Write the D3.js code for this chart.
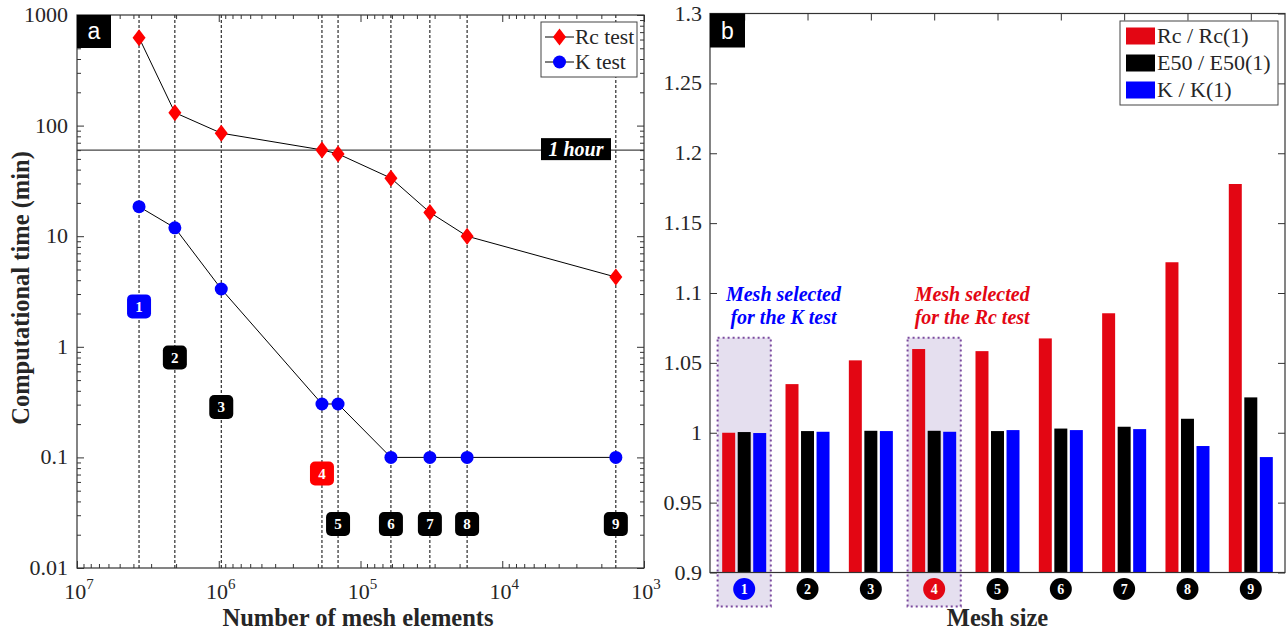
<!DOCTYPE html>
<html><head><meta charset="utf-8">
<script src="https://cdn.jsdelivr.net/npm/d3@7"></script>
<style>
body{margin:0;background:#fff}
svg{display:block}
text{font-family:"Liberation Serif","Times New Roman",serif;fill:#262626}
</style>
</head><body><svg id="c" width="1287" height="633"></svg>
<script>
// ---------- Panel a data ----------
const meshIds = [1, 2, 3, 4, 5, 6, 7, 8, 9];
const meshElements = [3.65e6, 2.04e6, 9.6e5, 1.87e5, 1.44e5, 6.1e4, 3.24e4, 1.77e4, 1.58e3];
const rcTime = [624, 131, 85.4, 60.3, 55.5, 33.5, 16.4, 10, 4.27];
const kTime = [18.5, 11.9, 3.33, 0.304, 0.304, 0.1, 0.1, 0.1, 0.1];
const badgeTime = [2.32, 0.80, 0.286, 0.0714, 0.025, 0.025, 0.025, 0.025, 0.025];
const oneHour = 60;
const yTicksA = [0.01, 0.1, 1, 10, 100, 1000];
const yTickLabelsA = ["0.01", "0.1", "1", "10", "100", "1000"];
const xTicksA = [1e7, 1e6, 1e5, 1e4, 1e3];
const xTickExpA = ["7", "6", "5", "4", "3"];
const legendA = ["Rc test", "K test"];

// ---------- Panel b data ----------
const seriesNames = ["Rc / Rc(1)", "E50 / E50(1)", "K / K(1)"];
const rcRatio = [1.0, 1.0348, 1.0518, 1.0599, 1.0584, 1.0675, 1.0855, 1.122, 1.178];
const e50Ratio = [1.0005, 1.0012, 1.0014, 1.0014, 1.0012, 1.003, 1.0043, 1.010, 1.0253];
const kRatio = [0.9998, 1.0007, 1.0012, 1.0007, 1.0019, 1.0019, 1.0026, 0.9905, 0.9826];
const yTicksB = [0.9, 0.95, 1, 1.05, 1.1, 1.15, 1.2, 1.25, 1.3];
const selectedK = 1, selectedRc = 4;

const RED = "#e30613", BLUE = "#0000ff", BLACK = "#000";
const AX = "#333";
const svg = d3.select("#c");

// ================= PANEL A =================
const xA = d3.scaleLog().domain([1e7, 1e3]).range([77, 644]);
const yA = d3.scaleLog().domain([0.01, 1000]).range([568, 15]);
const gA = svg.append("g");

function minorLog(lo, hi) {
  const out = [];
  for (let e = Math.round(Math.log10(lo)); e < Math.round(Math.log10(hi)); e++)
    for (let k = 2; k <= 9; k++) out.push(k * Math.pow(10, e));
  return out;
}
const xMinorA = minorLog(1e3, 1e7), yMinorA = minorLog(0.01, 1000);

// dashed verticals
gA.selectAll("line.vd").data(meshElements).join("line")
  .attr("x1", d => xA(d)).attr("x2", d => xA(d))
  .attr("y1", yA(1000)).attr("y2", yA(0.01))
  .attr("stroke", "#000").attr("stroke-width", 1).attr("stroke-dasharray", "3,2");

// 1 hour line
gA.append("line").attr("x1", 77).attr("x2", 644).attr("y1", yA(oneHour)).attr("y2", yA(oneHour))
  .attr("stroke", "#444").attr("stroke-width", 1.3);
const hrW = 70;
gA.append("rect").attr("x", 541).attr("y", yA(oneHour) - 12).attr("width", hrW).attr("height", 22).attr("fill", "#000");
gA.append("text").attr("x", 541 + hrW / 2).attr("y", yA(oneHour) + 6).attr("text-anchor", "middle")
  .style("fill", "#fff").style("font-size", "20px").style("font-weight", "bold").style("font-style", "italic").text("1 hour");

// lines
const lineA = d3.line().x(d => xA(d[0])).y(d => yA(d[1]));
gA.append("path").datum(meshElements.map((m, i) => [m, rcTime[i]])).attr("d", lineA)
  .attr("fill", "none").attr("stroke", "#000").attr("stroke-width", 1);
gA.append("path").datum(meshElements.map((m, i) => [m, kTime[i]])).attr("d", lineA)
  .attr("fill", "none").attr("stroke", "#000").attr("stroke-width", 1);

const diamond = "M0,-8.5L6.5,0L0,8.5L-6.5,0Z";
gA.selectAll("path.rc").data(meshElements).join("path")
  .attr("d", diamond).attr("transform", (d, i) => `translate(${xA(d)},${yA(rcTime[i])})`).attr("fill", "#ff0000");
gA.selectAll("circle.k").data(meshElements).join("circle")
  .attr("cx", d => xA(d)).attr("cy", (d, i) => yA(kTime[i])).attr("r", 6.5).attr("fill", "#0000ff");

// badges
const badgeColor = i => (i === selectedK - 1 ? BLUE : i === selectedRc - 1 ? "#ff0000" : "#000");
const bg = gA.selectAll("g.badge").data(meshIds).join("g")
  .attr("transform", (d, i) => `translate(${xA(meshElements[i])},${yA(badgeTime[i])})`);
bg.append("rect").attr("x", -12).attr("y", -12).attr("width", 24).attr("height", 24).attr("rx", 5).attr("fill", (d, i) => badgeColor(i));
bg.append("text").attr("y", 5.5).attr("text-anchor", "middle").style("fill", "#fff").style("font-size", "15px").style("font-weight", "bold").text(d => d);

// frame
gA.append("rect").attr("x", 77).attr("y", 15).attr("width", 567).attr("height", 553)
  .attr("fill", "none").attr("stroke", AX).attr("stroke-width", 1.2);

// ticks (inward) using d3 axes
function styleAxis(g) { g.select(".domain").remove(); g.selectAll(".tick line").attr("stroke", AX); g.selectAll("text").remove(); }
gA.append("g").attr("transform", "translate(0,568)").call(d3.axisBottom(xA).tickValues(xTicksA).tickSize(-7)).call(styleAxis);
gA.append("g").attr("transform", "translate(0,568)").call(d3.axisBottom(xA).tickValues(xMinorA).tickSize(-4)).call(styleAxis);
gA.append("g").attr("transform", "translate(0,15)").call(d3.axisTop(xA).tickValues(xTicksA).tickSize(-7)).call(styleAxis);
gA.append("g").attr("transform", "translate(0,15)").call(d3.axisTop(xA).tickValues(xMinorA).tickSize(-4)).call(styleAxis);
gA.append("g").attr("transform", "translate(77,0)").call(d3.axisLeft(yA).tickValues(yTicksA).tickSize(-7)).call(styleAxis);
gA.append("g").attr("transform", "translate(77,0)").call(d3.axisLeft(yA).tickValues(yMinorA).tickSize(-4)).call(styleAxis);
gA.append("g").attr("transform", "translate(644,0)").call(d3.axisRight(yA).tickValues(yTicksA).tickSize(-7)).call(styleAxis);
gA.append("g").attr("transform", "translate(644,0)").call(d3.axisRight(yA).tickValues(yMinorA).tickSize(-4)).call(styleAxis);

// tick labels
gA.selectAll("text.yl").data(yTicksA).join("text")
  .attr("x", 68).attr("y", d => yA(d) + 7).attr("text-anchor", "end").style("font-size", "22px")
  .text((d, i) => yTickLabelsA[i]);
const xl = gA.selectAll("text.xl").data(xTicksA).join("text")
  .attr("x", d => xA(d) + 2).attr("y", 599).attr("text-anchor", "middle").style("font-size", "22px");
xl.append("tspan").text("10");
xl.append("tspan").attr("dy", -10).style("font-size", "15px").text((d, i) => xTickExpA[i]);

// axis titles
gA.append("text").attr("transform", "translate(29,288) rotate(-90)").attr("text-anchor", "middle")
  .style("font-size", "24.5px").style("font-weight", "bold").text("Computational time (min)");
gA.append("text").attr("x", 358).attr("y", 626).attr("text-anchor", "middle")
  .style("font-size", "24.5px").style("font-weight", "bold").text("Number of mesh elements");

// legend a
gA.append("rect").attr("x", 541).attr("y", 22).attr("width", 96).attr("height", 55)
  .attr("fill", "#fff").attr("stroke", "#444").attr("stroke-width", 1);
legendA.forEach((name, i) => {
  const cy = 37 + i * 25;
  gA.append("line").attr("x1", 545).attr("x2", 574).attr("y1", cy).attr("y2", cy).attr("stroke", "#000");
  if (i === 0) gA.append("path").attr("d", diamond).attr("transform", `translate(559.5,${cy})`).attr("fill", "#ff0000");
  else gA.append("circle").attr("cx", 559.5).attr("cy", cy).attr("r", 6.5).attr("fill", "#0000ff");
  gA.append("text").attr("x", 575).attr("y", cy + 7).style("font-size", "21.5px").text(name);
});

// panel label a
gA.append("rect").attr("x", 77).attr("y", 15).attr("width", 34).attr("height", 33).attr("fill", "#000");
gA.append("text").attr("x", 94).attr("y", 39).attr("text-anchor", "middle")
  .style("fill", "#fff").style("font-family", "'Liberation Sans',Arial,sans-serif").style("font-size", "23px").text("a");

// ================= PANEL B =================
const xB = d3.scaleLinear().domain([0.46, 9.54]).range([710, 1285]);
const yB = d3.scaleLinear().domain([0.9, 1.3]).range([572.5, 13.5]);
const gB = svg.append("g");
const series = [rcRatio, e50Ratio, kRatio];
const seriesColor = [RED, BLACK, BLUE];
const offsets = [-0.245, 0, 0.245], barW = 0.205;

// highlight boxes
[selectedK, selectedRc].forEach(s => {
  gB.append("rect").attr("x", xB(s - 0.42)).attr("y", yB(1.068))
    .attr("width", xB(s + 0.42) - xB(s - 0.42)).attr("height", yB(0.8757) - yB(1.068))
    .attr("fill", "#e5dfef").attr("stroke", "#7b4a9e").attr("stroke-width", 2).attr("stroke-dasharray", "2,3");
});

// bars
series.forEach((vals, si) => {
  gB.selectAll(null).data(vals).join("rect")
    .attr("x", (d, i) => xB(meshIds[i] + offsets[si] - barW / 2))
    .attr("width", xB(barW) - xB(0))
    .attr("y", d => yB(Math.max(d, 0.9)))
    .attr("height", d => yB(0.9) - yB(Math.max(d, 0.9)))
    .attr("fill", seriesColor[si]);
});

// frame
gB.append("rect").attr("x", 710).attr("y", 13.5).attr("width", 575).attr("height", 559)
  .attr("fill", "none").attr("stroke", AX).attr("stroke-width", 1.2);

gB.append("g").attr("transform", "translate(0,13.5)").call(d3.axisTop(xB).tickValues(meshIds).tickSize(-7)).call(styleAxis);
gB.append("g").attr("transform", "translate(710,0)").call(d3.axisLeft(yB).tickValues(yTicksB).tickSize(-7)).call(styleAxis);
gB.append("g").attr("transform", "translate(1285,0)").call(d3.axisRight(yB).tickValues(yTicksB).tickSize(-7)).call(styleAxis);

gB.selectAll("text.yl").data(yTicksB).join("text")
  .attr("x", 702).attr("y", d => yB(d) + 7).attr("text-anchor", "end").style("font-size", "22px")
  .text(d => d3.format("~g")(d));

// mesh id circles
const cg = gB.selectAll("g.cid").data(meshIds).join("g")
  .attr("transform", d => `translate(${xB(d)},${yB(0.8882)})`);
cg.append("circle").attr("r", 11).attr("fill", d => d === selectedK ? BLUE : d === selectedRc ? RED : "#000");
cg.append("text").attr("y", 5).attr("text-anchor", "middle").style("fill", "#fff").style("font-size", "14px").style("font-weight", "bold").text(d => d);

gB.append("text").attr("x", 997.5).attr("y", 626).attr("text-anchor", "middle")
  .style("font-size", "24.5px").style("font-weight", "bold").text("Mesh size");

// annotations
[[1.62, BLUE, ["Mesh selected", "for the K test"]], [4.6, RED, ["Mesh selected", "for the Rc test"]]]
  .forEach(([cx, col, lines]) => {
    lines.forEach((s, j) => {
      gB.append("text").attr("x", xB(cx)).attr("y", 301 + j * 22.5).attr("text-anchor", "middle")
        .style("fill", col).style("font-size", "20px").style("font-weight", "bold").style("font-style", "italic").text(s);
    });
  });

// legend b
gB.append("rect").attr("x", 1120).attr("y", 21).attr("width", 158).attr("height", 84)
  .attr("fill", "#fff").attr("stroke", "#444").attr("stroke-width", 1);
seriesNames.forEach((name, i) => {
  const cy = 36 + i * 27;
  gB.append("rect").attr("x", 1126).attr("y", cy - 8.5).attr("width", 29).attr("height", 17).attr("fill", seriesColor[i]);
  gB.append("text").attr("x", 1157).attr("y", cy + 7).style("font-size", "22px").text(name);
});

// panel label b
gB.append("rect").attr("x", 710).attr("y", 13.5).attr("width", 35).attr("height", 34).attr("fill", "#000");
gB.append("text").attr("x", 727.5).attr("y", 39).attr("text-anchor", "middle")
  .style("fill", "#fff").style("font-family", "'Liberation Sans',Arial,sans-serif").style("font-size", "23px").text("b");
</script></body></html>
